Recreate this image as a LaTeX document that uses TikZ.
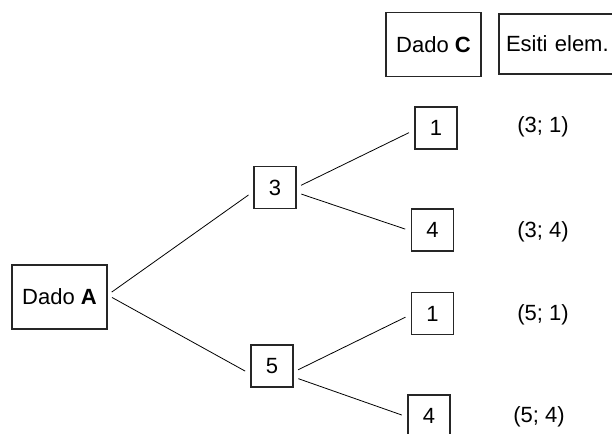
\documentclass[tikz,border=0pt]{standalone}
\usepackage{fontspec}
\setmainfont{Liberation Sans}
\begin{document}
\begin{tikzpicture}[x=1pt,y=-1pt,
  box/.style={draw=black!85,line width=1.2pt,rectangle,inner sep=0pt,
    font=\fontsize{22}{26}\selectfont},
  numbox/.style={box,minimum width=42pt,minimum height=42pt},
  lbl/.style={inner sep=0pt,font=\fontsize{22}{26}\selectfont},
  conn/.style={draw=black,line width=0.8pt,shorten <=5pt,shorten >=6pt}]
\useasboundingbox (0,0) rectangle (612,433);
\clip (0,0) rectangle (612,433);
\node[box,minimum width=95pt,minimum height=64pt] (A) at (59.5,297) {Dado \textbf{A}};
\node[box,minimum width=95pt,minimum height=64pt] (C) at (433.5,44.5) {Dado \textbf{C}};
\node[box,minimum width=121pt,minimum height=60pt,text width=121pt,align=left] (E) at (559.5,44)
  {\hspace{7pt}Esiti elem.};
\node[numbox] (n3) at (275,187.5) {3};
\node[numbox] (n5) at (272,366) {5};
\node[numbox] (n31) at (436,128) {1};
\node[numbox] (n34) at (432.5,230) {4};
\node[numbox] (n51) at (432.5,313.5) {1};
\node[numbox] (n54) at (429,416) {4};
\node[lbl] (l31) at (543,127) {(3; 1)};
\node[lbl] (l34) at (543,232) {(3; 4)};
\node[lbl] (l51) at (543,315) {(5; 1)};
\node[lbl] (l54) at (539,417) {(5; 4)};
\draw[conn] ([yshift=2pt]A.east) -- ([yshift=-4pt]n3.west);
\draw[conn] ([yshift=2pt]A.east) -- ([yshift=-8pt]n5.west);
\draw[conn] (n3.east) -- ([yshift=-2pt]n31.west);
\draw[conn] ([yshift=-5pt]n3.east) -- ([yshift=-1pt]n34.west);
\draw[conn] ([yshift=-6pt]n5.east) -- ([yshift=-1pt]n51.west);
\draw[conn] ([yshift=-11pt]n5.east) -- ([yshift=-1pt]n54.west);
\end{tikzpicture}
\end{document}
